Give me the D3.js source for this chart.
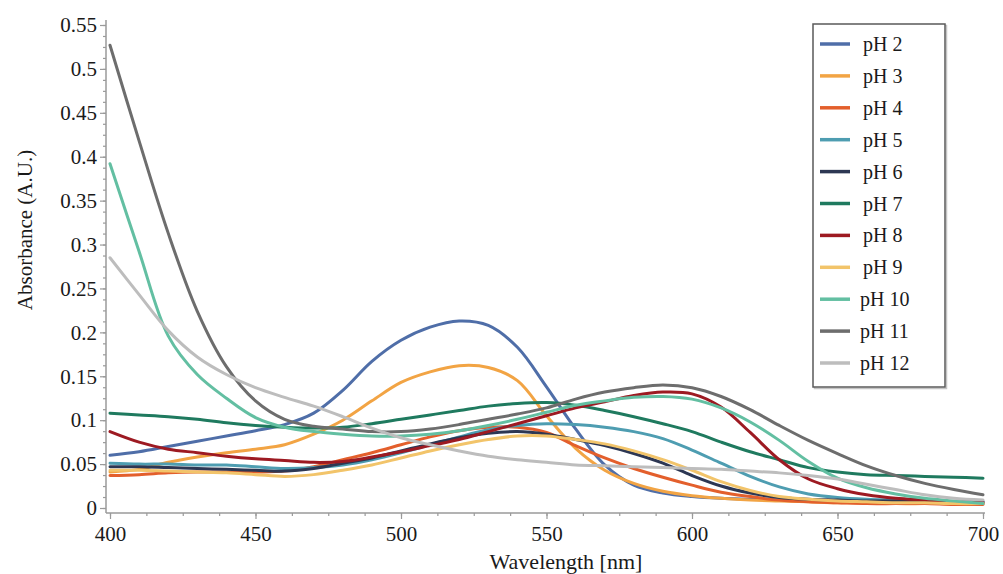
<!DOCTYPE html>
<html>
<head>
<meta charset="utf-8">
<script src="https://cdn.jsdelivr.net/npm/d3@7"></script>
<style>
  body { margin: 0; background: #fff; }
</style>
</head>
<body>
<svg id="chart" width="1003" height="574"></svg>
<script>
// wavelength grid (nm)
var wavelengths = [400, 410, 420, 430, 440, 450, 460, 470, 480, 490, 500,
                   510, 520, 530, 540, 550, 560, 570, 580, 590, 600,
                   610, 620, 630, 640, 650, 660, 670, 680, 690, 700];

// absorbance
var pH2  = [0.060, 0.064, 0.070, 0.076, 0.082, 0.088, 0.095, 0.108, 0.134, 0.167, 0.191,
            0.206, 0.213, 0.208, 0.183, 0.138, 0.090, 0.049, 0.026, 0.017, 0.013,
            0.011, 0.010, 0.009, 0.008, 0.007, 0.007, 0.006, 0.006, 0.005, 0.005];
var pH3  = [0.041, 0.044, 0.052, 0.058, 0.063, 0.067, 0.072, 0.084, 0.100, 0.122, 0.143,
            0.155, 0.162, 0.160, 0.145, 0.105, 0.068, 0.043, 0.028, 0.019, 0.014,
            0.011, 0.009, 0.008, 0.007, 0.006, 0.006, 0.005, 0.005, 0.005, 0.005];
var pH4  = [0.037, 0.038, 0.040, 0.041, 0.041, 0.041, 0.042, 0.047, 0.055, 0.063, 0.072,
            0.081, 0.088, 0.092, 0.092, 0.086, 0.071, 0.057, 0.045, 0.035, 0.026,
            0.018, 0.013, 0.009, 0.007, 0.006, 0.005, 0.005, 0.005, 0.004, 0.004];
var pH5  = [0.051, 0.050, 0.050, 0.049, 0.049, 0.047, 0.045, 0.046, 0.049, 0.055, 0.063,
            0.072, 0.081, 0.089, 0.094, 0.096, 0.095, 0.092, 0.087, 0.079, 0.066,
            0.051, 0.036, 0.024, 0.016, 0.012, 0.010, 0.009, 0.008, 0.007, 0.007];
var pH6  = [0.047, 0.047, 0.046, 0.045, 0.044, 0.043, 0.042, 0.045, 0.051, 0.057, 0.065,
            0.073, 0.080, 0.085, 0.087, 0.084, 0.078, 0.071, 0.062, 0.051, 0.037,
            0.025, 0.017, 0.012, 0.010, 0.009, 0.008, 0.008, 0.007, 0.007, 0.007];
var pH7  = [0.108, 0.106, 0.104, 0.101, 0.097, 0.094, 0.092, 0.091, 0.092, 0.096, 0.101,
            0.106, 0.111, 0.116, 0.119, 0.120, 0.117, 0.111, 0.104, 0.096, 0.087,
            0.075, 0.064, 0.055, 0.046, 0.041, 0.038, 0.037, 0.036, 0.035, 0.034];
var pH8  = [0.087, 0.075, 0.067, 0.063, 0.059, 0.056, 0.054, 0.052, 0.053, 0.058, 0.064,
            0.071, 0.078, 0.087, 0.096, 0.105, 0.114, 0.121, 0.128, 0.132, 0.130,
            0.115, 0.086, 0.055, 0.033, 0.022, 0.015, 0.011, 0.009, 0.007, 0.006];
var pH9  = [0.043, 0.043, 0.042, 0.041, 0.040, 0.038, 0.036, 0.038, 0.043, 0.049, 0.057,
            0.065, 0.072, 0.078, 0.082, 0.082, 0.078, 0.073, 0.065, 0.055, 0.043,
            0.030, 0.020, 0.013, 0.010, 0.008, 0.007, 0.006, 0.006, 0.005, 0.005];
var pH10 = [0.392, 0.292, 0.196, 0.152, 0.125, 0.103, 0.092, 0.087, 0.084, 0.082, 0.082,
            0.084, 0.088, 0.094, 0.101, 0.109, 0.117, 0.122, 0.126, 0.127, 0.124,
            0.114, 0.098, 0.077, 0.053, 0.034, 0.023, 0.016, 0.011, 0.008, 0.005];
var pH11 = [0.527, 0.418, 0.313, 0.224, 0.161, 0.122, 0.101, 0.093, 0.090, 0.087, 0.087,
            0.090, 0.095, 0.101, 0.107, 0.114, 0.124, 0.132, 0.137, 0.140, 0.137,
            0.127, 0.112, 0.094, 0.077, 0.062, 0.048, 0.037, 0.028, 0.021, 0.015];
var pH12 = [0.285, 0.243, 0.202, 0.172, 0.152, 0.137, 0.126, 0.116, 0.104, 0.091, 0.080,
            0.072, 0.065, 0.059, 0.055, 0.052, 0.049, 0.048, 0.047, 0.046, 0.045,
            0.044, 0.042, 0.040, 0.037, 0.033, 0.027, 0.021, 0.015, 0.011, 0.009];

var seriesNames  = ["pH 2", "pH 3", "pH 4", "pH 5", "pH 6", "pH 7", "pH 8", "pH 9", "pH 10", "pH 11", "pH 12"];
var seriesValues = [pH2, pH3, pH4, pH5, pH6, pH7, pH8, pH9, pH10, pH11, pH12];
var seriesColors = ["#4f6ea8", "#f2a444", "#e35f2c", "#4e9db1", "#2d3753", "#1f7a5f",
                    "#9d1a22", "#f2c46a", "#63bfa2", "#6d6d6d", "#bdbdbd"];

var xTicks = [400, 450, 500, 550, 600, 650, 700];
var yTicks = [0, 0.05, 0.1, 0.15, 0.2, 0.25, 0.3, 0.35, 0.4, 0.45, 0.5, 0.55];
var yTickLabels = ["0", "0.05", "0.1", "0.15", "0.2", "0.25", "0.3", "0.35", "0.4", "0.45", "0.5", "0.55"];

var serif = '"Liberation Serif", "Tinos", "Times New Roman", "DejaVu Serif", serif';

var svg = d3.select("#chart");
svg.append("rect").attr("width", 1003).attr("height", 574).attr("fill", "#fff");

var x = d3.scaleLinear().domain([400, 700]).range([110, 983]);
var y = d3.scaleLinear().domain([0, 0.55]).range([508, 25]);

var axisColor = "#9a9a9a";
var axisX0 = 106, axisY0 = 513;

// minor ticks
var xMinor = d3.range(400, 700.1, 12.5);
var yMinor = d3.range(0, 0.5501, 0.0125);

var gyMinor = svg.append("g").attr("transform", "translate(" + axisX0 + ",0)")
  .call(d3.axisLeft(y).tickValues(yMinor).tickSize(3).tickFormat(""));
var gxMinor = svg.append("g").attr("transform", "translate(0," + axisY0 + ")")
  .call(d3.axisBottom(x).tickValues(xMinor).tickSize(3).tickFormat(""));

var gy = svg.append("g").attr("transform", "translate(" + axisX0 + ",0)")
  .call(d3.axisLeft(y).tickValues(yTicks).tickSize(6).tickPadding(3)
    .tickFormat(function (d, i) { return yTickLabels[i]; }));
var gx = svg.append("g").attr("transform", "translate(0," + axisY0 + ")")
  .call(d3.axisBottom(x).tickValues(xTicks).tickSize(6).tickPadding(7));

[gyMinor, gxMinor, gy, gx].forEach(function (g) {
  g.attr("font-family", null);
  g.select(".domain").remove();
  g.selectAll(".tick line").attr("stroke", axisColor).attr("stroke-width", 1.2);
});
[gy, gx].forEach(function (g) {
  g.selectAll("text").style("font-family", serif).style("font-size", "21px").attr("fill", "#1a1a1a");
});

// axis lines
svg.append("line").attr("x1", axisX0).attr("x2", axisX0).attr("y1", 20).attr("y2", axisY0)
  .attr("stroke", axisColor).attr("stroke-width", 1.5);
svg.append("line").attr("x1", axisX0).attr("x2", 985).attr("y1", axisY0).attr("y2", axisY0)
  .attr("stroke", axisColor).attr("stroke-width", 1.5);

// axis titles
svg.append("text").attr("x", 566).attr("y", 569).attr("text-anchor", "middle")
  .style("font-family", serif).style("font-size", "22px").attr("fill", "#1a1a1a")
  .text("Wavelength [nm]");
svg.append("text").attr("transform", "translate(32,230) rotate(-90)").attr("text-anchor", "middle")
  .style("font-family", serif).style("font-size", "21px").attr("fill", "#1a1a1a")
  .text("Absorbance (A.U.)");

// curves
var line = d3.line()
  .x(function (d, i) { return x(wavelengths[i]); })
  .y(function (d) { return y(d); })
  .curve(d3.curveCatmullRom.alpha(0.5));

svg.append("g").selectAll("path")
  .data(seriesValues)
  .enter()
  .append("path")
  .attr("d", line)
  .attr("fill", "none")
  .attr("stroke", function (d, i) { return seriesColors[i]; })
  .attr("stroke-width", 3)
  .attr("stroke-linejoin", "round")
  .attr("stroke-linecap", "round");

// legend
var legend = svg.append("g");
legend.append("rect").attr("x", 814.5).attr("y", 25.5).attr("width", 132).attr("height", 363)
  .attr("fill", "none").attr("stroke", "#c4c4c4").attr("stroke-width", 1.5);
legend.append("rect").attr("x", 813).attr("y", 24).attr("width", 132).attr("height", 363)
  .attr("fill", "#fff").attr("stroke", "#5a5a5a").attr("stroke-width", 1.5);

var rows = legend.selectAll("g.row")
  .data(seriesNames)
  .enter()
  .append("g")
  .attr("class", "row")
  .attr("transform", function (d, i) { return "translate(0," + (44 + i * 31.9) + ")"; });

rows.append("line").attr("x1", 820).attr("x2", 850).attr("y1", 0).attr("y2", 0)
  .attr("stroke", function (d, i) { return seriesColors[i]; }).attr("stroke-width", 3.5);
rows.append("text").attr("x", function (d, i) { return i < 8 ? 863 : 860; }).attr("y", 7)
  .style("font-family", serif).style("font-size", "20px").attr("fill", "#1a1a1a")
  .text(function (d) { return d; });
</script>
</body>
</html>
